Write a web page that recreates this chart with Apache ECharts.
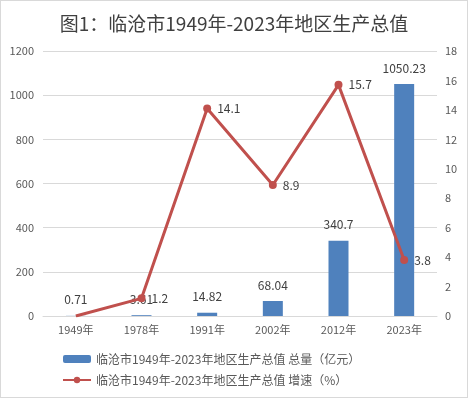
<!DOCTYPE html>
<html>
<head>
<meta charset="utf-8">
<script src="https://cdn.jsdelivr.net/npm/echarts@6/dist/echarts.min.js"></script>
<style>
  html, body { margin: 0; padding: 0; background: #fff; }
  #chart { width: 466px; height: 396px; border: 1px solid #d9d9d9; }
</style>
</head>
<body>
<div id="chart"></div>
<script>
const categories = ['1949年', '1978年', '1991年', '2002年', '2012年', '2023年']
const totalValues = [0.71, 3.61, 14.82, 68.04, 340.7, 1050.23]
const growthValues = [0, 1.2, 14.1, 8.9, 15.7, 3.8]
const totalName = '临沧市1949年-2023年地区生产总值 总量（亿元）'
const growthName = '临沧市1949年-2023年地区生产总值 增速（%）'

const chart = echarts.init(document.getElementById('chart'))
const fontFamily = '"Noto Sans CJK SC", "Noto Sans", sans-serif'
const labelColor = '#595959'

chart.setOption({
  animation: false,
  textStyle: { fontFamily },
  title: {
    text: '图1：临沧市1949年-2023年地区生产总值',
    left: 'center',
    top: 8,
    textStyle: { fontSize: 19, fontWeight: 'normal', color: '#404040', fontFamily }
  },
  grid: { left: 42, right: 30, top: 50, bottom: 81 },
  legend: {
    orient: 'vertical',
    left: 56,
    top: 347,
    itemGap: 9,
    itemWidth: 28,
    itemHeight: 8,
    textStyle: { color: labelColor, fontSize: 12, fontFamily },
    data: [totalName, growthName]
  },
  xAxis: {
    type: 'category',
    data: categories,
    axisLine: { lineStyle: { color: '#d9d9d9' } },
    axisTick: { show: false },
    axisLabel: { color: labelColor, fontSize: 11, margin: 8 }
  },
  yAxis: [
    {
      type: 'value',
      min: 0,
      max: 1200,
      interval: 200,
      axisLine: { show: false },
      axisTick: { show: false },
      axisLabel: { color: labelColor, fontSize: 11, margin: 9, formatter: (v) => String(v) },
      splitLine: { lineStyle: { color: '#d9d9d9' } }
    },
    {
      type: 'value',
      min: 0,
      max: 18,
      interval: 2,
      axisLine: { show: false },
      axisTick: { show: false },
      axisLabel: { color: labelColor, fontSize: 11, margin: 8, formatter: (v) => String(v) },
      splitLine: { show: false }
    }
  ],
  series: [
    {
      name: totalName,
      type: 'bar',
      data: totalValues,
      barWidth: 20,
      itemStyle: { color: '#4f81bd' },
      label: {
        show: true,
        position: 'top',
        distance: 10,
        color: '#404040',
        fontSize: 12
      }
    },
    {
      name: growthName,
      type: 'line',
      yAxisIndex: 1,
      data: growthValues.map((v, i) => ({
        value: v,
        symbolSize: i === 0 ? 0 : 8,
        label: { show: i !== 0 }
      })),
      symbol: 'circle',
      symbolSize: 8,
      lineStyle: { color: '#c0504d', width: 3 },
      itemStyle: { color: '#c0504d' },
      label: {
        position: 'right',
        distance: 6,
        color: '#404040',
        fontSize: 12
      }
    }
  ]
})
</script>
</body>
</html>
